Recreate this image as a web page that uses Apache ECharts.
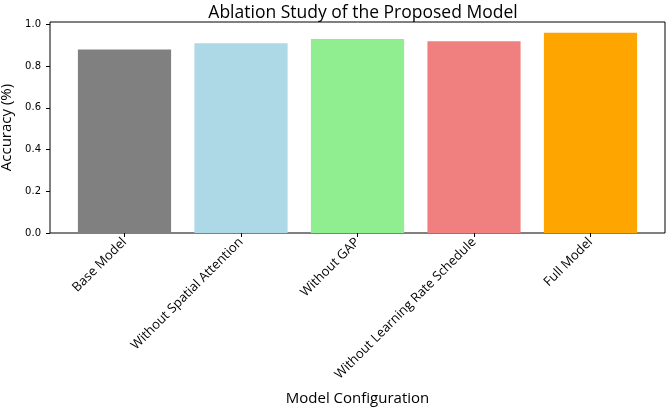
<!DOCTYPE html>
<html><head><meta charset="utf-8">
<script src="https://cdn.jsdelivr.net/npm/echarts@6/dist/echarts.min.js"></script>
<style>html,body{margin:0;padding:0;background:#fff}#c{width:669px;height:408px}</style>
</head><body><div id="c"></div>
<script>
const categories = ["Base Model", "Without Spatial Attention", "Without GAP", "Without Learning Rate Schedule", "Full Model"];
const accuracy = [0.88, 0.91, 0.93, 0.92, 0.96];
const barColors = ["#808080", "#add8e6", "#90ee90", "#f08080", "#ffa500"];
const yTicks = [0, 0.2, 0.4, 0.6, 0.8, 1.0];
const yMax = 1.012;

const chart = echarts.init(document.getElementById('c'), null, {renderer: 'canvas'});
const labelFont = "'Open Sans', 'Noto Sans', sans-serif";
const option = {
  animation: false,
  title: {
    text: "Ablation Study of the Proposed Model",
    left: 358, top: -1, textAlign: 'center',
    textStyle: {fontFamily: labelFont, fontSize: 17.5, fontWeight: 'normal', color: '#000'}
  },
  grid: [
    {left: 50, top: 22, width: 615, height: 211, show: true, borderColor: '#000', borderWidth: 1, backgroundColor: 'transparent', containLabel: false, outerBoundsMode: 'none'},
    {left: 66.25, top: 22, width: 582.5, height: 211, containLabel: false, outerBoundsMode: 'none'}
  ],
  xAxis: [
    {type: 'value', gridIndex: 0, min: 0, max: 1, axisLine: {show: false}, axisTick: {show: false}, axisLabel: {show: false}, splitLine: {show: false},
     name: "Model Configuration", nameLocation: 'middle', nameGap: 158,
     nameTextStyle: {fontFamily: labelFont, fontSize: 15, color: '#000'}},
    {type: 'category', gridIndex: 1, data: categories, boundaryGap: true,
     axisLine: {show: false},
     axisTick: {show: true, alignWithLabel: true, length: 4, lineStyle: {color: '#000'}},
     axisLabel: {rotate: 45, interval: 0, margin: 7, fontFamily: labelFont, fontSize: 13, color: '#000'},
     splitLine: {show: false}}
  ],
  yAxis: [
    {type: 'value', gridIndex: 0, min: 0, max: yMax,
     axisLine: {show: false},
     axisTick: {show: true, length: 4, lineStyle: {color: '#000'}, customValues: yTicks},
     axisLabel: {fontFamily: "'DejaVu Sans', sans-serif", fontSize: 10, color: '#000', margin: 9, customValues: yTicks,
       formatter: v => v.toFixed(1)},
     splitLine: {show: false},
     name: "Accuracy (%)", nameLocation: 'middle', nameGap: 34,
     nameTextStyle: {fontFamily: labelFont, fontSize: 15, color: '#000'}},
    {type: 'value', gridIndex: 1, min: 0, max: yMax, show: false}
  ],
  series: [{
    type: 'bar', xAxisIndex: 1, yAxisIndex: 1,
    barWidth: '80%',
    data: accuracy.map((v, i) => ({value: v, itemStyle: {color: barColors[i]}}))
  }]
};
chart.setOption(option);
</script></body></html>
